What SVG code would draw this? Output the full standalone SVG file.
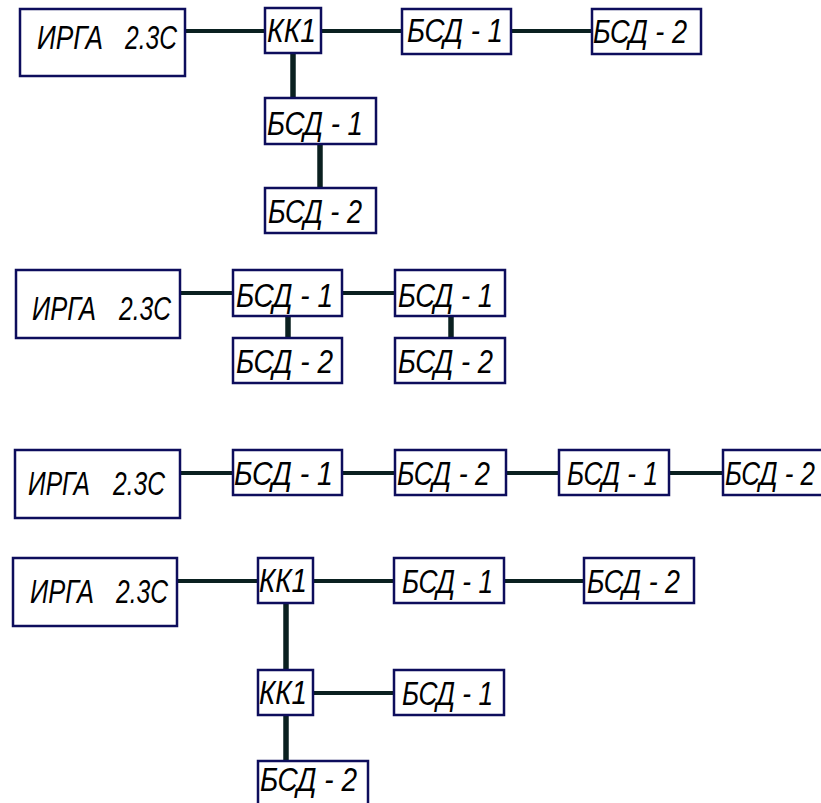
<svg xmlns="http://www.w3.org/2000/svg" width="821" height="803" viewBox="0 0 821 803">
<style>
.box{fill:#fff;stroke:#0d0d5c;stroke-width:2.5}
.t{font-family:"Liberation Sans",Arial,sans-serif;font-style:italic;font-size:32.5px;fill:#000}
.h{stroke:#0a2020;stroke-width:4;fill:none}
.v{stroke:#0a2020;stroke-width:5.5;fill:none}
</style>
<rect width="821" height="803" fill="#fff"/>
<g id="connectors">
<line class="h" x1="185" y1="31" x2="265" y2="31"/>
<line class="h" x1="321" y1="31" x2="402" y2="31"/>
<line class="h" x1="511" y1="31" x2="592" y2="31"/>
<line class="v" x1="293" y1="53" x2="293" y2="98"/>
<line class="v" x1="320" y1="144" x2="320" y2="188"/>
<line class="h" x1="180" y1="293" x2="233" y2="293"/>
<line class="h" x1="342" y1="293" x2="395" y2="293"/>
<line class="v" x1="288" y1="316" x2="288" y2="338"/>
<line class="v" x1="451" y1="316" x2="451" y2="338"/>
<line class="h" x1="180" y1="473" x2="233" y2="473"/>
<line class="h" x1="342" y1="473" x2="395" y2="473"/>
<line class="h" x1="506" y1="473" x2="559" y2="473"/>
<line class="h" x1="669" y1="473" x2="723" y2="473"/>
<line class="h" x1="177" y1="581" x2="258" y2="581"/>
<line class="h" x1="313" y1="581" x2="394" y2="581"/>
<line class="h" x1="504" y1="581" x2="584" y2="581"/>
<line class="v" x1="286" y1="603" x2="286" y2="670"/>
<line class="h" x1="313" y1="693" x2="394" y2="693"/>
<line class="v" x1="286" y1="715" x2="286" y2="761"/>
</g>
<!-- Diagram 1 -->
<g id="d1-irga"><rect class="box" x="20" y="9" width="165" height="67"/><text class="t" y="49"><tspan x="37" textLength="66" lengthAdjust="spacingAndGlyphs">ИРГА</tspan> <tspan x="125" textLength="52" lengthAdjust="spacingAndGlyphs">2.3С</tspan></text></g>
<g id="d1-kk1"><rect class="box" x="265" y="8" width="56" height="45"/><text class="t" x="267" y="42" textLength="49" lengthAdjust="spacingAndGlyphs">КК1</text></g>
<g id="d1-bsd1a"><rect class="box" x="402" y="9" width="109" height="45"/><text class="t" x="407" y="42" textLength="96" lengthAdjust="spacingAndGlyphs">БСД - 1</text></g>
<g id="d1-bsd2a"><rect class="box" x="592" y="9" width="109" height="45"/><text class="t" x="593" y="43" textLength="94" lengthAdjust="spacingAndGlyphs">БСД - 2</text></g>
<g id="d1-bsd1b"><rect class="box" x="265" y="98" width="111" height="46"/><text class="t" x="267" y="135" textLength="96" lengthAdjust="spacingAndGlyphs">БСД - 1</text></g>
<g id="d1-bsd2b"><rect class="box" x="265" y="188" width="111" height="45"/><text class="t" x="268" y="223" textLength="94" lengthAdjust="spacingAndGlyphs">БСД - 2</text></g>
<!-- Diagram 2 -->
<g id="d2-irga"><rect class="box" x="16" y="270" width="164" height="68"/><text class="t" y="320"><tspan x="32" textLength="64" lengthAdjust="spacingAndGlyphs">ИРГА</tspan> <tspan x="119" textLength="52" lengthAdjust="spacingAndGlyphs">2.3С</tspan></text></g>
<g id="d2-bsd1a"><rect class="box" x="233" y="270" width="109" height="46"/><text class="t" x="236" y="307" textLength="97" lengthAdjust="spacingAndGlyphs">БСД - 1</text></g>
<g id="d2-bsd1b"><rect class="box" x="395" y="270" width="110" height="46"/><text class="t" x="398" y="307" textLength="95" lengthAdjust="spacingAndGlyphs">БСД - 1</text></g>
<g id="d2-bsd2a"><rect class="box" x="233" y="338" width="109" height="45"/><text class="t" x="236" y="373" textLength="97" lengthAdjust="spacingAndGlyphs">БСД - 2</text></g>
<g id="d2-bsd2b"><rect class="box" x="395" y="338" width="110" height="45"/><text class="t" x="398" y="373" textLength="95" lengthAdjust="spacingAndGlyphs">БСД - 2</text></g>
<!-- Diagram 3 -->
<g id="d3-irga"><rect class="box" x="15" y="450" width="165" height="68"/><text class="t" y="495"><tspan x="28" textLength="62" lengthAdjust="spacingAndGlyphs">ИРГА</tspan> <tspan x="113" textLength="52" lengthAdjust="spacingAndGlyphs">2.3С</tspan></text></g>
<g id="d3-bsd1a"><rect class="box" x="233" y="450" width="109" height="45"/><text class="t" x="234" y="485" textLength="99" lengthAdjust="spacingAndGlyphs">БСД - 1</text></g>
<g id="d3-bsd2a"><rect class="box" x="395" y="450" width="111" height="45"/><text class="t" x="397" y="485" textLength="93" lengthAdjust="spacingAndGlyphs">БСД - 2</text></g>
<g id="d3-bsd1b"><rect class="box" x="559" y="450" width="110" height="45"/><text class="t" x="567" y="485" textLength="91" lengthAdjust="spacingAndGlyphs">БСД - 1</text></g>
<g id="d3-bsd2b"><rect class="box" x="723" y="450" width="110" height="45"/><text class="t" x="725" y="485" textLength="90" lengthAdjust="spacingAndGlyphs">БСД - 2</text></g>
<!-- Diagram 4 -->
<g id="d4-irga"><rect class="box" x="13" y="558" width="164" height="68"/><text class="t" y="603"><tspan x="30" textLength="64" lengthAdjust="spacingAndGlyphs">ИРГА</tspan> <tspan x="116" textLength="52" lengthAdjust="spacingAndGlyphs">2.3С</tspan></text></g>
<g id="d4-kk1a"><rect class="box" x="258" y="558" width="55" height="45"/><text class="t" x="259" y="592" textLength="48" lengthAdjust="spacingAndGlyphs">КК1</text></g>
<g id="d4-bsd1a"><rect class="box" x="394" y="558" width="110" height="45"/><text class="t" x="402" y="593" textLength="91" lengthAdjust="spacingAndGlyphs">БСД - 1</text></g>
<g id="d4-bsd2a"><rect class="box" x="584" y="558" width="110" height="45"/><text class="t" x="587" y="593" textLength="93" lengthAdjust="spacingAndGlyphs">БСД - 2</text></g>
<g id="d4-kk1b"><rect class="box" x="258" y="670" width="55" height="45"/><text class="t" x="259" y="704" textLength="48" lengthAdjust="spacingAndGlyphs">КК1</text></g>
<g id="d4-bsd1b"><rect class="box" x="394" y="670" width="110" height="45"/><text class="t" x="402" y="705" textLength="91" lengthAdjust="spacingAndGlyphs">БСД - 1</text></g>
<g id="d4-bsd2b"><rect class="box" x="258" y="761" width="110" height="50"/><text class="t" x="260" y="791" textLength="97" lengthAdjust="spacingAndGlyphs">БСД - 2</text></g>
</svg>
